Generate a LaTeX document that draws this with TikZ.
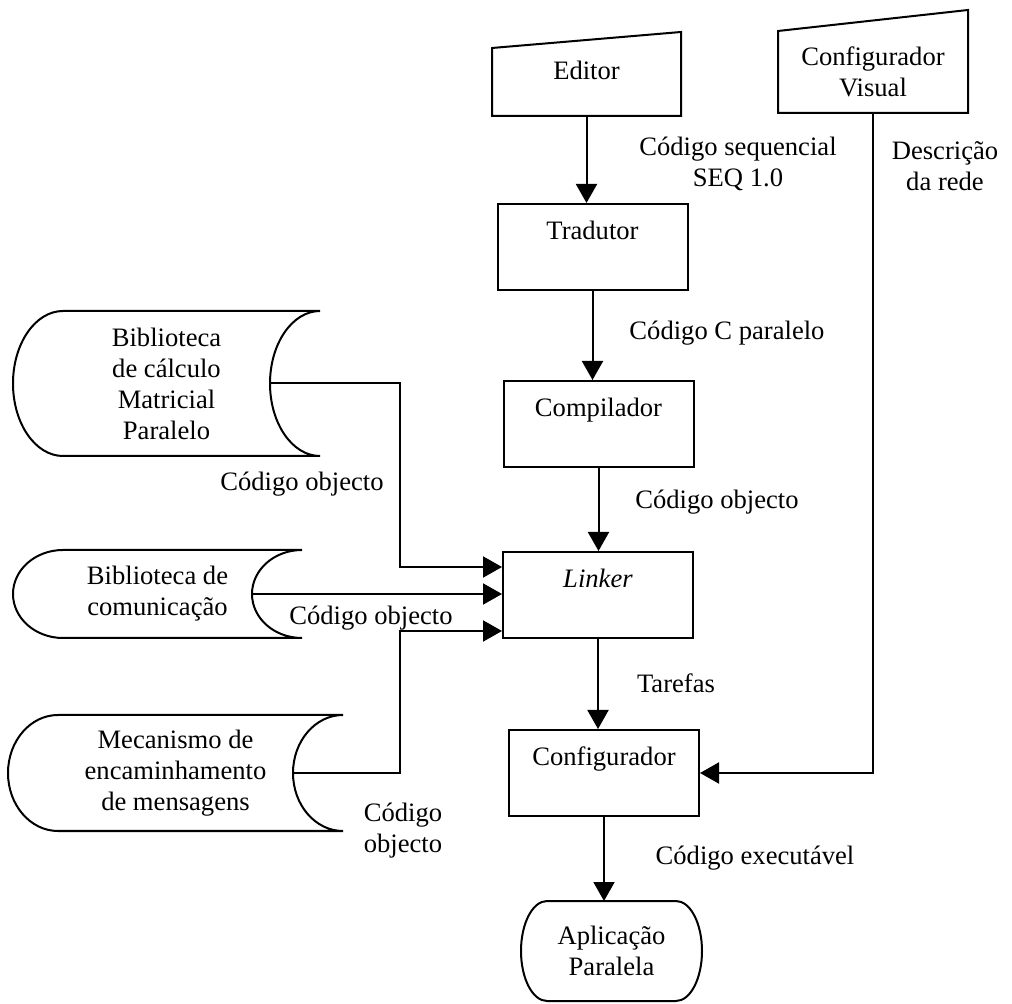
\documentclass[tikz,border=0pt]{standalone}
\usepackage{fontspec}
\setmainfont{Liberation Serif}
\usetikzlibrary{arrows.meta,calc}

% outlines drawn round plain (undrawn) nodes
\newcommand\manualin[2]{%
  \draw[shapeline] (#1.south west) -- (#1.south east) -- ([yshift=#2]#1.north east) -- (#1.north west) -- cycle;}
\newcommand\storedin[2]{%
  \draw[shapeline] ([xshift=25pt]#1.north west) arc[start angle=90,end angle=270,x radius=25pt,y radius=#2]
    -- (#1.south east) arc[start angle=270,end angle=90,x radius=25pt,y radius=#2] -- cycle;}
\newcommand\terminalin[3]{%
  \draw[shapeline] ([xshift=#2]#1.north west) arc[start angle=90,end angle=270,x radius=#2,y radius=#3]
    -- ([xshift=-#2]#1.south east) arc[start angle=-90,end angle=90,x radius=#2,y radius=#3] -- cycle;}

\begin{document}
\begin{tikzpicture}[
  x=0.5pt,y=-0.5pt,
  every node/.append style={font=\fontsize{13.3pt}{15.5pt}\selectfont},
  shapeline/.style={line width=1pt},
  procbox/.style={rectangle,draw,line width=1pt,minimum width=95pt,inner ysep=0pt,text height=18pt,text depth=25pt},
  manual/.style={rectangle,outer sep=0pt,align=center},
  stored/.style={rectangle,outer sep=0pt,align=center},
  terminal/.style={rectangle,outer sep=0pt,align=center},
  lbl/.style={align=center,inner sep=0pt},
  arrow/.style={-{Triangle[length=9.5pt,width=10.5pt]},line width=1pt}
]
\useasboundingbox (0,0) rectangle (1012,1004);
\node[manual,minimum width=94.5pt,inner ysep=0pt,text height=16pt,text depth=18pt] (ed) at (586.5,82) {Editor};
\node[manual,minimum width=95pt,minimum height=41pt] (cv) at (873,72) {Configurador\\Visual};
\node[procbox] (trad) at (592.5,247) {Tradutor};
\node[procbox] (comp) at (598.5,424) {Compilador};
\node[procbox] (link) at (598,595) {\textit{Linker}};
\node[procbox] (conf) at (604,773) {Configurador};
\node[stored,minimum width=153.5pt,minimum height=72.5pt] (lib1) at (166.5,383.5) {Biblioteca\\de cálculo\\Matricial\\Paralelo};
\node[stored,minimum width=144.5pt,minimum height=44pt] (lib2) at (157.5,594) {Biblioteca de\\comunicação};
\node[stored,minimum width=167.5pt,minimum height=58pt] (mec) at (175.5,773) {Mecanismo de\\encaminhamento\\de mensagens};
\node[terminal,minimum width=90.5pt,minimum height=50pt] (app) at (611.5,951) {Aplicação\\Paralela};
\manualin{ed}{8pt}
\manualin{cv}{10.5pt}
\storedin{lib1}{36.25pt}
\storedin{lib2}{22pt}
\storedin{mec}{29pt}
\terminalin{app}{13pt}{25pt}
\coordinate (in1) at ([yshift=-8pt]link.north west);
\coordinate (in3) at ([yshift=4pt]link.south west);
\draw[arrow] (ed.south) -- (ed.south |- trad.north);
\draw[arrow] (trad.south) -- (trad.south |- comp.north);
\draw[arrow] (comp.south) -- (comp.south |- link.north);
\draw[arrow] (link.south) -- (link.south |- conf.north);
\draw[arrow] (conf.south) -- (conf.south |- app.north);
\draw[arrow] (cv.south) |- (conf.east);
\draw[arrow] ([xshift=-25pt]lib1.east) -- ++(130,0) |- (in1);
\draw[arrow] ([xshift=-25pt]lib2.east) -- (lib2.east -| link.west);
\draw[arrow] ([xshift=-25pt]mec.east) -- ++(107,0) |- (in3);
\node[lbl] (seqlbl) at (738,164) {Código sequencial\\SEQ 1.0};
\node[lbl] (redelbl) at (945,166) {Descrição\\da rede};
\node[lbl] (clbl) at (727,333) {Código C paralelo};
\node[lbl] (obj1) at (302,484) {Código objecto};
\node[lbl] (obj2) at (717,502) {Código objecto};
\node[lbl] (obj3) at (371,618) {Código objecto};
\node[lbl] (tarlbl) at (676,683) {Tarefas};
\node[lbl] (obj4) at (403,831) {Código\\objecto};
\node[lbl] (exelbl) at (755,858) {Código executável};
\end{tikzpicture}
\end{document}
